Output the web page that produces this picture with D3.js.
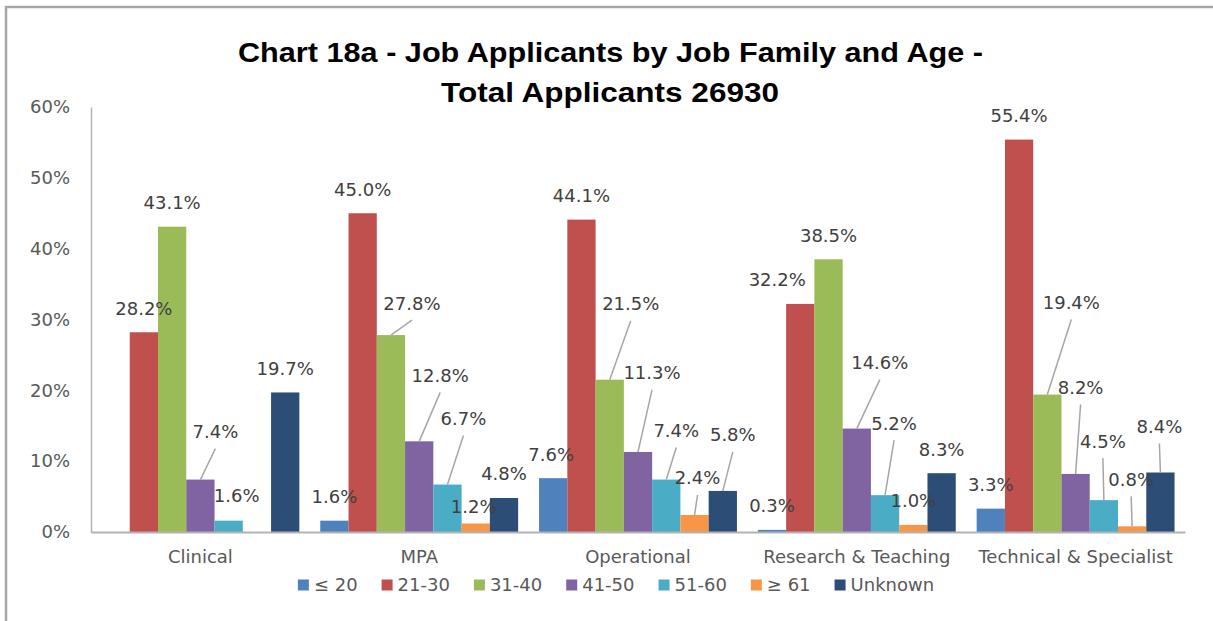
<!DOCTYPE html>
<html>
<head>
<meta charset="utf-8">
<script src="https://cdn.jsdelivr.net/npm/d3@7"></script>
<style>
  body { margin: 0; background: #fff; }
  svg text { font-family: "DejaVu Sans", sans-serif; }
</style>
</head>
<body>
<svg id="chart"></svg>
<script>
const WIDTH = 1213;
const HEIGHT = 621;

// data (percent of applicants in each job family)
const categories = ["Clinical", "MPA", "Operational", "Research & Teaching", "Technical & Specialist"];
const ageGroups = ["≤ 20", "21-30", "31-40", "41-50", "51-60", "≥ 61", "Unknown"];
const age20under = [0, 1.6, 7.6, 0.3, 3.3];
const age21to30 = [28.2, 45.0, 44.1, 32.2, 55.4];
const age31to40 = [43.1, 27.8, 21.5, 38.5, 19.4];
const age41to50 = [7.4, 12.8, 11.3, 14.6, 8.2];
const age51to60 = [1.6, 6.7, 7.4, 5.2, 4.5];
const age61over = [0, 1.2, 2.4, 1.0, 0.8];
const ageUnknown = [19.7, 4.8, 5.8, 8.3, 8.4];
const yTicks = [0, 10, 20, 30, 40, 50, 60];

const seriesValues = [age20under, age21to30, age31to40, age41to50, age51to60, age61over, ageUnknown];
const colors = ["#4F81BD", "#C0504D", "#9BBB59", "#8064A2", "#4BACC6", "#F79646", "#2C4D75"];

// labels that were dragged away from the bar in the original: "series,category" -> [dx, dy, leader]
const labelMoves = {
  "3,0": [15, -48, true], "4,0": [8, -25, false],
  "2,1": [21, -32, true], "3,1": [21, -66, true], "4,1": [16, -66, true], "5,1": [-2, -17, false],
  "0,2": [-2, -24, false], "2,2": [21, -76, true], "3,2": [14, -79, true], "4,2": [10, -49, true],
  "5,2": [3, -37, true], "6,2": [10, -56, true],
  "1,3": [-23, -24, false], "3,3": [23, -66, true], "4,3": [9, -72, true],
  "2,4": [24, -92, true], "3,4": [5, -86.5, true], "4,4": [-1, -59, true], "5,4": [-1, -47, true],
  "6,4": [-1, -46, true]
};

const svg = d3.select("#chart").attr("width", WIDTH).attr("height", HEIGHT);

// chart frame (top and left edges visible)
svg.append("path")
  .attr("d", "M6,621 V7 H1213")
  .attr("fill", "none")
  .attr("stroke", "#A6A6A6")
  .attr("stroke-width", 2.5);

// title
const title = svg.append("g").attr("font-family", "'Liberation Sans', Arial, sans-serif")
  .attr("font-weight", "bold").attr("font-size", 28).attr("fill", "#000");
title.append("text").attr("x", 610.5).attr("y", 62).attr("text-anchor", "middle")
  .attr("textLength", 745).attr("lengthAdjust", "spacingAndGlyphs")
  .style("font-family", "'Liberation Sans', Arial, sans-serif")
  .text("Chart 18a - Job Applicants by Job Family and Age -");
title.append("text").attr("x", 610).attr("y", 102).attr("text-anchor", "middle")
  .attr("textLength", 338).attr("lengthAdjust", "spacingAndGlyphs")
  .style("font-family", "'Liberation Sans', Arial, sans-serif")
  .text("Total Applicants 26930");

const x = d3.scaleBand().domain(categories).range([91, 1185]).paddingInner(0).paddingOuter(0);
const xs = d3.scaleBand().domain(d3.range(ageGroups.length)).range([0, x.bandwidth()]).paddingOuter(0.37);
const y = d3.scaleLinear().domain([0, 60]).range([532, 107]);

// y axis
const yAxis = svg.append("g").attr("transform", "translate(91,0)")
  .call(d3.axisLeft(y).tickValues(yTicks).tickFormat(d => d + "%").tickSize(0).tickSizeOuter(0).tickPadding(21));
yAxis.select(".domain").attr("stroke", "#B3B3B3").attr("stroke-width", 1.5);
yAxis.selectAll("text").attr("font-size", 18).attr("fill", "#595959")
  .style("font-family", "'DejaVu Sans', sans-serif");

// bars
const groups = svg.append("g").selectAll("g")
  .data(seriesValues)
  .join("g")
  .attr("fill", (d, i) => colors[i]);

groups.each(function(vals, s) {
  d3.select(this).selectAll("rect")
    .data(vals.map((v, c) => ({v, c})).filter(d => d.v > 0))
    .join("rect")
    .attr("x", d => x(categories[d.c]) + xs(s))
    .attr("width", xs.bandwidth())
    .attr("y", d => y(d.v))
    .attr("height", d => y(0) - y(d.v));
});

// x axis
const xAxis = svg.append("g").attr("transform", "translate(0,532)")
  .call(d3.axisBottom(x).tickSize(0).tickSizeOuter(0).tickPadding(18));
xAxis.select(".domain").attr("stroke", "#B3B3B3").attr("stroke-width", 2);
xAxis.selectAll("text").attr("font-size", 18).attr("fill", "#595959")
  .style("font-family", "'DejaVu Sans', sans-serif");

// data labels with leader lines
const labelLayer = svg.append("g");
seriesValues.forEach((vals, s) => {
  vals.forEach((v, c) => {
    if (!(v > 0)) return;
    const bx = x(categories[c]) + xs(s) + xs.bandwidth() / 2;
    const by = y(v);
    const move = labelMoves[s + "," + c] || [0, -24, false];
    const lx = bx + move[0];
    const ly = by + move[1];
    if (move[2]) {
      labelLayer.append("line")
        .attr("x1", lx).attr("y1", ly + 17)
        .attr("x2", bx).attr("y2", by)
        .attr("stroke", "#A6A6A6").attr("stroke-width", 1.5);
    }
    labelLayer.append("text")
      .attr("x", lx).attr("y", ly).attr("dy", "0.36em")
      .attr("text-anchor", "middle")
      .attr("font-size", 18).attr("fill", "#404040")
      .text(v.toFixed(1) + "%");
  });
});

// legend
const legend = svg.append("g").attr("transform", "translate(0,585)");
const items = legend.selectAll("g").data(ageGroups).join("g");
items.append("rect").attr("width", 11).attr("height", 11).attr("y", -5.5)
  .attr("fill", (d, i) => colors[i]);
items.append("text").attr("x", 16).attr("dy", "0.36em")
  .attr("font-size", 18).attr("fill", "#595959").text(d => d);
const widths = [];
items.each(function() { widths.push(16 + d3.select(this).select("text").node().getComputedTextLength()); });
const gap = 24;
const total = d3.sum(widths) + gap * (widths.length - 1);
let cursor = 616 - total / 2;
items.attr("transform", (d, i) => {
  const t = "translate(" + cursor + ",0)";
  cursor += widths[i] + gap;
  return t;
});
</script>
</body>
</html>
